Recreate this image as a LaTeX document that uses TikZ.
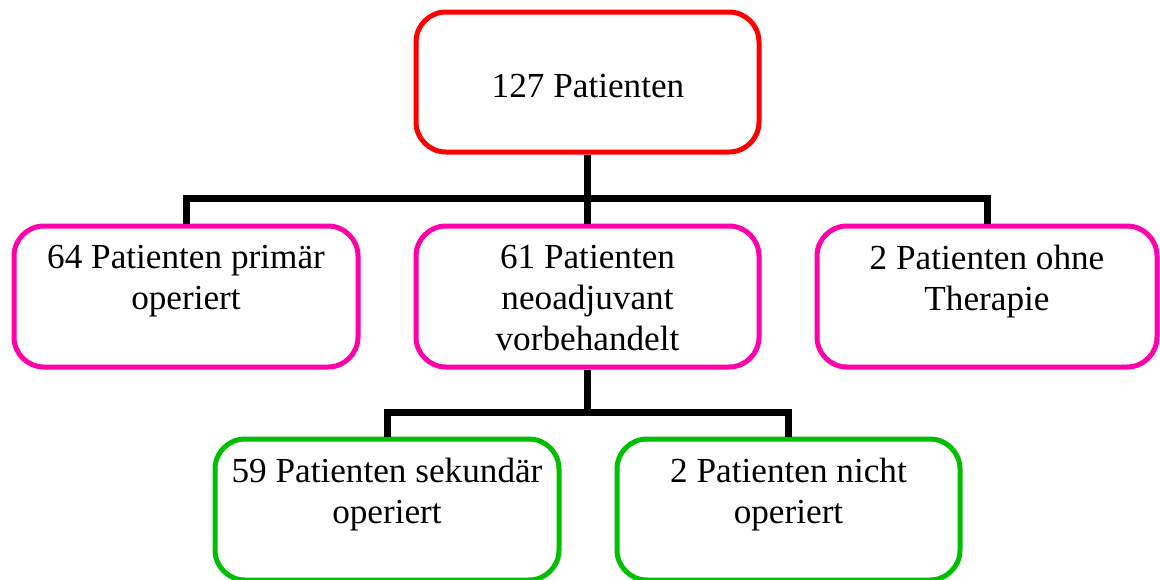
\documentclass[tikz,border=0pt]{standalone}
\usepackage{fontspec}
\setmainfont{Liberation Serif}
\definecolor{boxred}{RGB}{255,0,0}
\definecolor{boxmag}{RGB}{255,0,170}
\definecolor{boxgreen}{RGB}{0,190,0}
\begin{document}
\begin{tikzpicture}[x=0.5pt,y=-0.5pt,
  boxbase/.style={draw,line width=2.5pt,rounded corners=15pt,fill=white,inner sep=0pt},
  redbox/.style={boxbase,draw=boxred,minimum width=171.5pt,minimum height=70pt},
  magbox/.style={boxbase,draw=boxmag,minimum height=70.5pt},
  greenbox/.style={boxbase,draw=boxgreen,minimum height=70.5pt},
  txtfont/.style={font=\fontsize{17.6}{20.5}\selectfont},
  boxtext/.style={txtfont,anchor=north,align=center,inner sep=0pt},
  conn/.style={draw=black,line width=3.5pt,line join=miter}]
\useasboundingbox (0,0) rectangle (1160,579);
\node[redbox] (top) at (587.5,82) {};
\node[txtfont,anchor=base,inner sep=0pt] (ttop) at (588,97) {127 Patienten};
\node[magbox,minimum width=172pt] (left) at (186,296.5) {};
\node[magbox,minimum width=171.5pt] (mid) at (587.5,296.5) {};
\node[magbox,minimum width=170pt] (right) at (987,296.5) {};
\node[greenbox,minimum width=172pt] (bl) at (387,509.5) {};
\node[greenbox,minimum width=171.5pt] (br) at (788.5,509.5) {};
\node[boxtext] (tleft) at ([yshift=-10.5pt]left.north) {64 Patienten primär\\operiert};
\node[boxtext] (tmid) at ([yshift=-10.5pt]mid.north) {61 Patienten\\neoadjuvant\\vorbehandelt};
\node[boxtext] (tright) at ([yshift=-10.5pt]right.north) {2 Patienten ohne\\Therapie};
\node[boxtext] (tbl) at ([yshift=-10.5pt]bl.north) {59 Patienten sekundär\\operiert};
\node[boxtext] (tbr) at ([yshift=-10.5pt]br.north) {2 Patienten nicht\\operiert};
\coordinate (j1) at (587.5,198);
\coordinate (j2) at (587.5,412);
\draw[conn] (top.south) -- (j1);
\draw[conn] (left.north) |- (j1) -| (right.north);
\draw[conn] (j1) -- (mid.north);
\draw[conn] (mid.south) -- (j2);
\draw[conn] (bl.north) |- (j2) -| (br.north);
\end{tikzpicture}
\end{document}
